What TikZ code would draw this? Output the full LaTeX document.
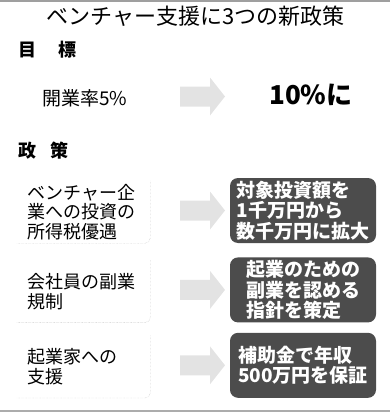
\documentclass[tikz,border=0pt]{standalone}
\usepackage{fontspec}
\setmainfont{Noto Sans CJK JP}
\usepackage{tikz}
\usetikzlibrary{positioning}
\tikzset{
    greyArrow/.pic={
		\fill[gray!22] (-22,-10) -- (8,-10) -- (8,-19) -- (23,0) -- (8,19) -- (8,10) -- (-22,10) -- cycle;
	}
}
\tikzset{
    headText/.style={anchor=west, inner sep=0pt, font=\bfseries\fontsize{18}{18}\selectfont},
    resultBox/.style={fill=black!70, rounded corners=8pt, text=white, align=left,
		minimum width=146pt, minimum height=65pt, inner sep=0pt,
		font=\bfseries\fontsize{19}{20.5}\selectfont},
    policyBox/.style={anchor=south, align=left, text width=112pt, inner xsep=10.5pt, inner ysep=0pt,
		minimum height=62pt, font=\fontsize{18}{19.5}\selectfont},
    policyEdge/.style={draw=gray!60, densely dotted, thin, rounded corners=5pt}
}

\begin{document}
\begin{tikzpicture}[x=1pt, y=-1pt]
        \useasboundingbox (0,0) rectangle (390,412);
        \draw[gray!75, line width=2pt] (0,1) -- (390,1);
        \draw[gray!65, line width=2pt] (0,411) -- (390,411);
        \node[inner sep=0pt, font=\fontsize{22}{22}\selectfont] (title) at (195.5,16) {ベンチャー支援に3つの新政策};
        % goal
        \node[headText] (goalHead) at (18,50) {目\hspace{22pt}標};
        \node[anchor=west, inner sep=0pt, font=\fontsize{19}{19}\selectfont] (rateNow) at (42,98) {開業率5\%};
        \pic at (202,96.5) {greyArrow};
        \node[anchor=west, inner sep=0pt, font=\bfseries\fontsize{26}{26}\selectfont] (rateGoal) at (269,95) {10\%に};
        % policies
        \node[headText] (policyHead) at (18,151) {政\hspace{14pt}策};
        \coordinate (arrowCol) at (202,0);
        \coordinate (policyCol) at (83.5,0);
        \node[resultBox] (res1) at (303,210.5) {対象投資額を\\1千万円から\\数千万円に拡大};
        \node[resultBox, below=14pt of res1] (res2) {起業のための\\副業を認める\\指針を策定};
        \node[resultBox, below=10pt of res2] (res3) {補助金で年収\\500万円を保証};
        \node[policyBox] (pol1) at (policyCol |- res1.south) {ベンチャー企\\業への投資の\\所得税優遇};
        \node[policyBox] (pol2) at (policyCol |- res2.south) {会社員の副業\\規制};
        \node[policyBox] (pol3) at (policyCol |- res3.south) {起業家への\\支援};
        \draw[policyEdge] (pol1.north east) -- (pol1.south east) -- (pol1.south west);
        \draw[policyEdge] (pol2.north east) -- (pol2.south east) -- (pol2.south west);
        \draw[policyEdge] (pol3.north east) -- (pol3.south east) -- (pol3.south west);
        \pic at (arrowCol |- res1) {greyArrow};
        \pic at (arrowCol |- res2) {greyArrow};
        \pic at (arrowCol |- res3) {greyArrow};
      \end{tikzpicture}
\end{document}
